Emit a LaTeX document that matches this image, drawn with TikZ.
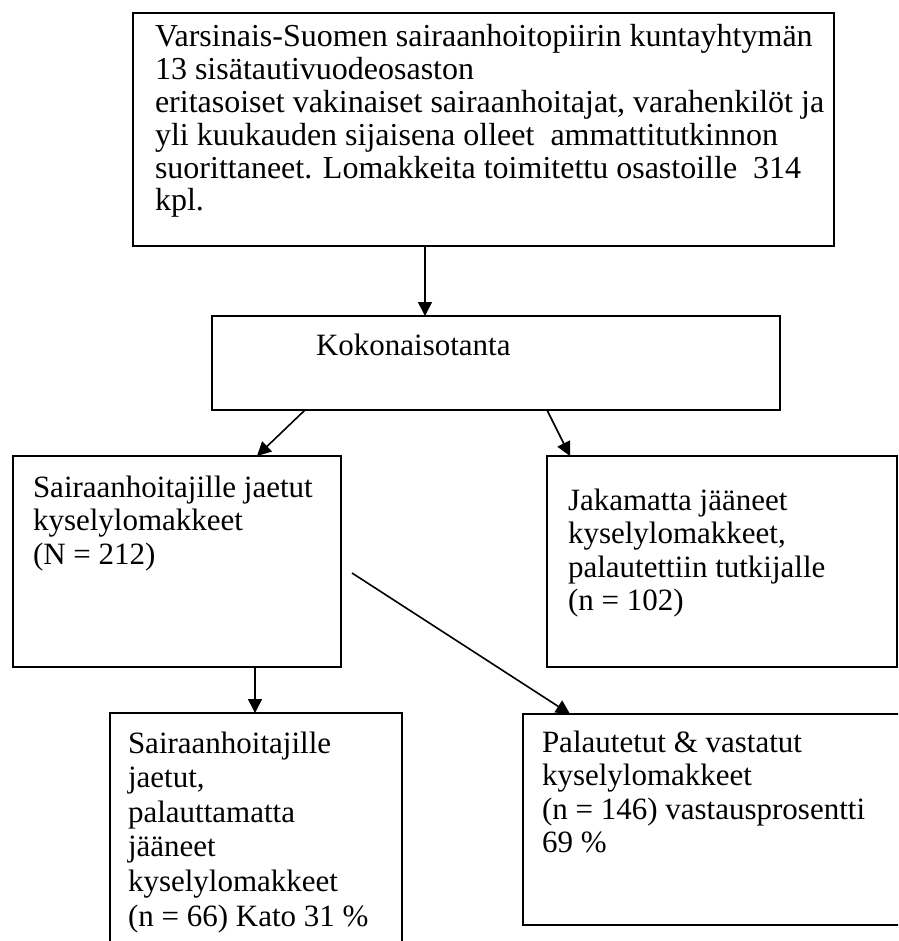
\documentclass[tikz,border=0pt]{standalone}
\usepackage{fontspec}
\setmainfont{Liberation Serif}
\usetikzlibrary{arrows.meta}

\newcommand{\firstrow}{\rule{0pt}{28pt}}

\begin{document}
\begin{tikzpicture}[x=1pt,y=-1pt]
  \tikzset{BoxStyle/.style = {
    shape         = rectangle,
    draw          = black,
    fill          = white,
    line width    = 1.6pt,
    inner sep     = 0pt,
    outer sep     = 0pt,
    anchor        = north west
    }
  }
  \tikzset{TextStyle/.style = {
    anchor        = north west,
    align         = left,
    inner sep     = 0pt,
    outer sep     = 0pt,
    text          = black,
    font          = \fontsize{31}{33.5}\selectfont
    }
  }
  \tikzset{EdgeStyle/.style = {
    draw          = black,
    line width    = 1.6pt,
    -{Triangle[length=14pt,width=14pt]}
    }
  }

  \useasboundingbox (0,0) rectangle (898,941);
  \clip (0,0) rectangle (898,941);

	\node[BoxStyle, minimum width=701pt, minimum height=233pt](Top) at (133,13) {};
	\node[BoxStyle, minimum width=568pt, minimum height=94pt](Koko) at (212,316) {};
	\node[BoxStyle, minimum width=328pt, minimum height=211pt](Jaetut) at (13,456) {};
	\node[BoxStyle, minimum width=350pt, minimum height=211pt](Jakamatta) at (547,456) {};
	\node[BoxStyle, minimum width=292pt, minimum height=280pt](Kato) at (110,713) {};
	\node[BoxStyle, minimum width=420pt, minimum height=211pt](Vastatut) at (523,714) {};

	\node[TextStyle, font=\fontsize{32}{32.8}\selectfont](TopText) at (155,19) {\firstrow Varsinais-Suomen sairaanhoitopiirin kuntayhtymän\\
	  13 sisätautivuodeosaston\\
	  eritasoiset vakinaiset sairaanhoitajat, varahenkilöt ja\\
	  yli kuukauden sijaisena olleet\ \ ammattitutkinnon\\
	  suorittaneet. Lomakkeita toimitettu osastoille\ \ 314\\
	  kpl.};
	\node[TextStyle](KokoText) at (316,327) {\firstrow Kokonaisotanta};
	\node[TextStyle](JaetutText) at (33,469) {\firstrow Sairaanhoitajille jaetut\\
	  kyselylomakkeet\\
	  (N = 212)};
	\node[TextStyle](JakamattaText) at (568,482) {\firstrow Jakamatta jääneet\\
	  kyselylomakkeet,\\
	  palautettiin tutkijalle\\
	  (n = 102)};
	\node[TextStyle, font=\fontsize{31}{34.6}\selectfont](KatoText) at (128,725) {\firstrow Sairaanhoitajille\\
	  jaetut,\\
	  palauttamatta\\
	  jääneet\\
	  kyselylomakkeet\\
	  (n = 66) Kato 31 \%};
	\node[TextStyle](VastatutText) at (542,724) {\firstrow Palautetut \& vastatut\\
	  kyselylomakkeet\\
	  (n = 146) vastausprosentti\\
	  69 \%};

	\draw[EdgeStyle]([xshift=-58.5pt]Top.south) to ([xshift=-58.5pt]Top.south |- Koko.north);
	\draw[EdgeStyle]([xshift=93pt]Koko.south west) to ([xshift=244pt]Jaetut.north west);
	\draw[EdgeStyle]([xshift=335pt]Koko.south west) to ([xshift=23pt]Jakamatta.north west);
	\draw[EdgeStyle]([xshift=78pt]Jaetut.south) to ([xshift=78pt]Jaetut.south |- Kato.north);
	\draw[EdgeStyle]([xshift=11pt,yshift=-11.5pt]Jaetut.east) to ([xshift=47pt]Vastatut.north west);

  \end{tikzpicture}
\end{document}
